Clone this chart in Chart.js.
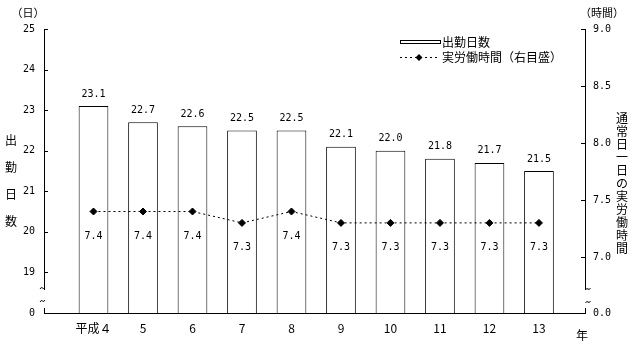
<!DOCTYPE html>
<html>
<head>
<meta charset="utf-8">
<script src="https://cdn.jsdelivr.net/npm/chart.js"></script>
<style>
html, body { margin: 0; padding: 0; background: #fff; }
</style>
</head>
<body>
<canvas id="chartStuff" width="639" height="346"></canvas>
<script>
// data
var years = ['平成４', '5', '6', '7', '8', '9', '10', '11', '12', '13'];
var days = [23.1, 22.7, 22.6, 22.5, 22.5, 22.1, 22.0, 21.8, 21.7, 21.5];
var hours = [7.4, 7.4, 7.4, 7.3, 7.4, 7.3, 7.3, 7.3, 7.3, 7.3];
var dayTicks = [19, 20, 21, 22, 23, 24, 25];
var hourTicks = [7.0, 7.5, 8.0, 8.5, 9.0];

//the axes are broken, so "0" sits at these values under the break
var DAY_FLOOR = 18;
var HOUR_FLOOR = 6.51;

var jp = '"Noto Sans CJK JP", sans-serif';
var mono = '"DejaVu Sans Mono", monospace';

function tilde(c, x, y){
  c.beginPath();
  c.moveTo(x - 2.5, y + 1);
  c.quadraticCurveTo(x - 1.25, y - 1.5, x, y);
  c.quadraticCurveTo(x + 1.25, y + 1.5, x + 2.5, y - 1);
  c.stroke();
}

//value labels, inward ticks, axis breaks, titles and the legend
var extras = {
  id: 'extras',
  afterDatasetsDraw: function(chart){
    var c = chart.ctx;
    c.save();
    c.fillStyle = '#000';
    c.font = '10px ' + mono;
    c.textAlign = 'center';
    c.textBaseline = 'middle';
    chart.getDatasetMeta(0).data.forEach(function(el, i){
      c.fillText(days[i].toFixed(1), el.x, el.y - 12);
    });
    chart.getDatasetMeta(1).data.forEach(function(el, i){
      c.fillText(hours[i].toFixed(1), el.x, el.y + 25);
    });
    c.restore();
  },
  afterDraw: function(chart){
    var c = chart.ctx, a = chart.chartArea;
    var yl = chart.scales.y, yr = chart.scales.y2;
    c.save();
    c.strokeStyle = '#000';
    c.lineWidth = 1;
    c.beginPath();
    dayTicks.forEach(function(v){
      var p = Math.round(yl.getPixelForValue(v)) + 0.5;
      c.moveTo(a.left, p); c.lineTo(a.left + 4, p);
    });
    hourTicks.forEach(function(v){
      var p = Math.round(yr.getPixelForValue(v)) + 0.5;
      c.moveTo(a.right, p); c.lineTo(a.right - 4, p);
    });
    c.stroke();

    // break in both vertical axes
    c.fillStyle = '#fff';
    c.fillRect(a.left - 2, a.bottom - 23, 4, 18);
    c.fillRect(a.right - 2, a.bottom - 23, 4, 18);
    tilde(c, a.left - 1.5, a.bottom - 25);
    tilde(c, a.left - 1.5, a.bottom - 12);
    tilde(c, a.right + 3, a.bottom - 24);
    tilde(c, a.right + 3, a.bottom - 11);

    c.fillStyle = '#000';
    c.textAlign = 'center';
    c.textBaseline = 'middle';
    c.font = '11px ' + jp;
    c.fillText('（日）', 28, 13);
    c.fillText('（時間）', 602, 13);
    c.font = '12px ' + jp;
    '出勤日数'.split('').forEach(function(ch, i){
      c.fillText(ch, 11, 140 + i * 27.3);
    });
    '通常日一日の実労働時間'.split('').forEach(function(ch, i){
      c.fillText(ch, 622, 118 + i * 13);
    });
    c.fillText('年', 582, 335);

    // legend
    c.strokeRect(400.5, 40.5, 40, 3);
    c.beginPath();
    c.setLineDash([2, 3]);
    c.moveTo(400, 57.5); c.lineTo(438, 57.5);
    c.stroke();
    c.setLineDash([]);
    c.beginPath();
    c.moveTo(419, 54); c.lineTo(422.5, 57.5); c.lineTo(419, 61); c.lineTo(415.5, 57.5);
    c.closePath();
    c.fill();
    c.textAlign = 'left';
    c.fillText('出勤日数', 442, 42);
    c.fillText('実労働時間（右目盛）', 442, 57);
    c.restore();
  }
};

var ctx = document.getElementById('chartStuff').getContext('2d');
var myChart = new Chart(ctx, {
  type: 'bar',
  data: {
    datasets: [{
      label: '出勤日数',
      data: days.map(function(v, i){ return {x: i, y: v}; }),
      backgroundColor: '#fff',
      borderColor: '#000',
      borderWidth: 1,
      barPercentage: 0.6,
      categoryPercentage: 1,
      yAxisID: 'y',
      order: 2
    }, {
      type: 'line',
      label: '実労働時間（右目盛）',
      data: hours.map(function(v, i){ return {x: i, y: v}; }),
      yAxisID: 'y2',
      borderColor: '#000',
      borderWidth: 1,
      borderDash: [2, 3],
      tension: 0,
      pointStyle: 'rectRot',
      pointRadius: 3.5,
      pointBackgroundColor: '#000',
      pointBorderColor: '#000',
      pointBorderWidth: 1,
      order: 1
    }]
  },
  options: {
    responsive: false,
    animation: false,
    layout: { padding: { top: 29, left: 0, right: 0, bottom: 0 } },
    plugins: { legend: { display: false }, tooltip: { enabled: false } },
    scales: {
      x: {
        type: 'linear',
        offset: false,
        min: -1,
        max: 9.93,
        afterBuildTicks: function(s){
          s.ticks = years.map(function(l, i){ return {value: i}; });
        },
        ticks: {
          callback: function(v){ return years[v]; },
          font: { family: jp, size: 12 },
          color: '#000',
          padding: 8,
          autoSkip: false,
          maxRotation: 0
        },
        grid: { display: false, drawTicks: false, offset: false },
        border: { color: '#000' },
        afterFit: function(s){ s.height = 33; }
      },
      y: {
        position: 'left',
        min: DAY_FLOOR,
        max: 25,
        afterBuildTicks: function(s){
          s.ticks = [DAY_FLOOR].concat(dayTicks).map(function(v){ return {value: v}; });
        },
        ticks: {
          callback: function(v){ return v === DAY_FLOOR ? '0' : v; },
          font: { family: mono, size: 10 },
          color: '#000',
          padding: 9
        },
        grid: { display: false, drawTicks: false },
        border: { color: '#000' },
        afterFit: function(s){ s.width = 44; }
      },
      y2: {
        position: 'right',
        min: HOUR_FLOOR,
        max: 9,
        afterBuildTicks: function(s){
          s.ticks = [HOUR_FLOOR].concat(hourTicks).map(function(v){ return {value: v}; });
        },
        ticks: {
          callback: function(v){ return v === HOUR_FLOOR ? '0.0' : v.toFixed(1); },
          font: { family: mono, size: 10 },
          color: '#000',
          padding: 8
        },
        grid: { display: false, drawTicks: false },
        border: { color: '#000' },
        afterFit: function(s){ s.width = 54; }
      }
    }
  },
  plugins: [extras]
});
</script>
</body>
</html>
